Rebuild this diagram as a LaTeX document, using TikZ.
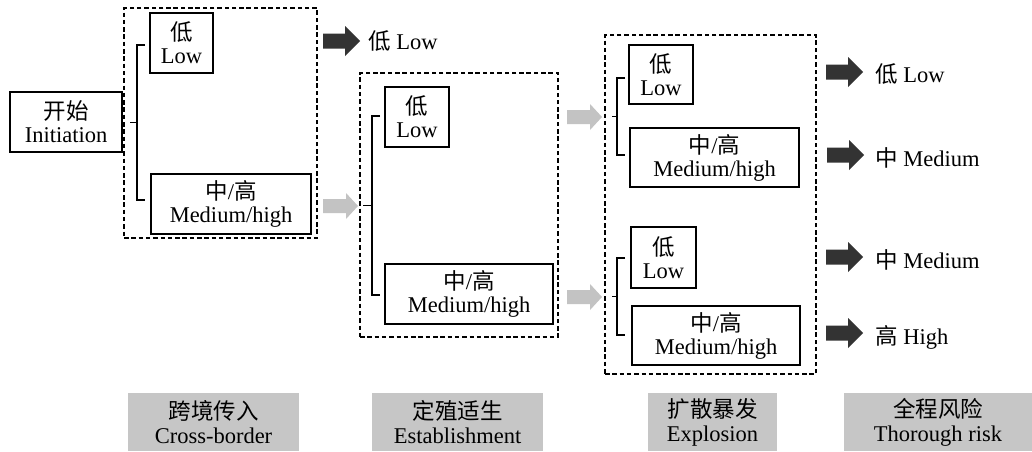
\documentclass[tikz,border=0pt]{standalone}
\usepackage{fontspec}
\setmainfont{Liberation Serif}
\newfontfamily\cjk{Noto Sans CJK SC}
\usetikzlibrary{calc}
\definecolor{lblgray}{RGB}{198,198,198}
\definecolor{arrgray}{RGB}{195,195,195}
\definecolor{arrdark}{RGB}{51,51,51}
\tikzset{
  box/.style={draw, line width=1.5pt, align=center, inner sep=0pt, font=\fontsize{22.5}{23}\selectfont},
  grp/.style={draw, line width=1.4pt, dash pattern=on 4.5pt off 2.8pt, inner sep=0pt},
  brk/.style={line width=1.5pt},
  lbl/.style={fill=lblgray, align=center, inner sep=0pt, minimum height=58, font=\fontsize{22.5}{24}\selectfont},
  outtxt/.style={anchor=west, inner sep=0pt, font=\fontsize{22.5}{24}\selectfont},
  darkarrow/.style={fill=arrdark},
  grayarrow/.style={fill=arrgray},
}
% block arrow: #1 style, #2 name, #3 x, #4 y, #5 shaft half, #6 head half, #7 shaft len, #8 head len
\newcommand\blockarrow[8]{%
  \coordinate (#2) at (#3,#4);
  \fill[#1] ($(#2)+(0,-#5)$) -- ++(#7,0) -- ($(#2)+(#7,-#6)$) -- ($(#2)+(#7+#8,0)$)
    -- ($(#2)+(#7,#6)$) -- ($(#2)+(#7,#5)$) -- ($(#2)+(0,#5)$) -- cycle;}
% bracket: #1 x, #2 top y, #3 bottom y, #4 end x, #5 left x
\newcommand\groupbracket[5]{%
  \draw[brk] (#4,#2) -- (#1,#2) -- (#1,#3) -- (#4,#3);
  \draw[brk] (#5,{(#2+#3)/2}) -- (#1,{(#2+#3)/2});}
\begin{document}
\begin{tikzpicture}[x=1pt,y=-1pt]
\useasboundingbox[fill=white] (0,0) rectangle (1032,451);

% stage 1
\node[box, minimum width=112, minimum height=60] (init) at (66,122) {{\cjk 开始}\\Initiation};
\node[grp, minimum width=193, minimum height=230] (g1) at (220.5,123) {};
\node[box, minimum width=63, minimum height=60] (low1) at (181.5,43) {{\cjk 低}\\Low};
\node[box, minimum width=160, minimum height=60] (med1) at (231,204) {{\cjk 中}/{\cjk 高}\\Medium/high};
\groupbracket{137}{45}{200}{145}{130}

% stage 2
\node[grp, minimum width=198, minimum height=264] (g2) at (459,205) {};
\node[box, minimum width=64, minimum height=60] (low2) at (417,117) {{\cjk 低}\\Low};
\node[box, minimum width=168, minimum height=60] (med2) at (469,294) {{\cjk 中}/{\cjk 高}\\Medium/high};
\groupbracket{372}{116}{295}{380}{363}

% stage 3
\node[grp, minimum width=211, minimum height=339] (g3) at (710.5,204.5) {};
\node[box, minimum width=64, minimum height=59] (low3a) at (661,74.5) {{\cjk 低}\\Low};
\node[box, minimum width=169, minimum height=59] (med3a) at (714.5,157.5) {{\cjk 中}/{\cjk 高}\\Medium/high};
\node[box, minimum width=65, minimum height=61] (low3b) at (663.5,257.5) {{\cjk 低}\\Low};
\node[box, minimum width=168, minimum height=59] (med3b) at (716,335.5) {{\cjk 中}/{\cjk 高}\\Medium/high};
\groupbracket{617}{78}{155}{625}{612}
\groupbracket{617}{258}{335}{625}{612}

% arrows
\blockarrow{darkarrow}{a0}{323}{41}{7.5}{15}{22}{15}
\blockarrow{grayarrow}{ga1}{323}{206}{7}{13}{23}{12}
\blockarrow{grayarrow}{ga2}{567}{117}{7}{13}{23}{12}
\blockarrow{grayarrow}{ga3}{567}{297}{7}{13}{23}{12}
\blockarrow{darkarrow}{a1}{826}{72}{7.5}{15}{22}{15}
\blockarrow{darkarrow}{a2}{827}{155}{7.5}{15}{22}{15}
\blockarrow{darkarrow}{a3}{826}{257}{7.5}{15}{22}{15}
\blockarrow{darkarrow}{a4}{826}{333}{7.5}{15}{22}{15}

% outcome texts
\node[outtxt] (o0) at (368,41) {{\cjk 低} Low};
\node[outtxt] (o1) at (875,74) {{\cjk 低} Low};
\node[outtxt] (o2) at (875,158) {{\cjk 中} Medium};
\node[outtxt] (o3) at (875,260) {{\cjk 中} Medium};
\node[outtxt] (o4) at (875,337) {{\cjk 高} High};

% bottom labels
\node[lbl, minimum width=171] (l1) at (213.5,422) {{\cjk 跨境传入}\\Cross-border};
\node[lbl, minimum width=171] (l2) at (457.5,422) {{\cjk 定殖适生}\\Establishment};
\node[lbl, minimum width=129] (l3) at (712.5,422) {{\cjk 扩散暴发}\\Explosion};
\node[lbl, minimum width=188] (l4) at (938,422) {{\cjk 全程风险}\\Thorough risk};
\end{tikzpicture}
\end{document}
